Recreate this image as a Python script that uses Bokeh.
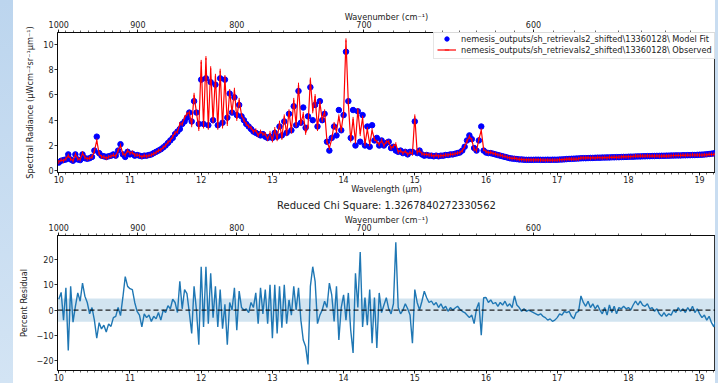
import math
from bokeh.plotting import figure
from bokeh.layouts import column, row
from bokeh.models import (Range1d, LinearAxis, FixedTicker, SingleIntervalTicker,
                          CustomJSTickFormatter, Legend, LegendItem, BoxAnnotation, Span,
                          ColumnDataSource, Div)
from bokeh.embed import file_html
from bokeh.resources import INLINE

# ---------------- data ----------------
samples_per_um = 30          # spectral points per micron, starting at 10.0 um
start_um = 10.0

model_10 = [0.65, 0.80, 0.85, 0.90, 1.30, 0.90, 0.80, 1.30, 0.90, 0.85,
            1.30, 1.00, 0.95, 1.00, 1.10, 1.60, 2.70, 1.40, 1.20, 1.15,
            1.10, 1.15, 1.20, 1.30, 1.20, 1.60, 2.10, 1.30, 1.10, 1.50]
model_11 = [1.30, 1.35, 1.20, 1.25, 1.20, 1.15, 1.20, 1.20, 1.25, 1.30,
            1.40, 1.50, 1.60, 1.70, 1.85, 2.00, 2.20, 2.40, 2.60, 2.90,
            3.10, 3.30, 3.70, 3.90, 4.20, 4.60, 3.90, 5.50, 4.60, 3.70]
model_12 = [7.20, 3.70, 7.30, 3.60, 7.00, 4.00, 6.80, 3.60, 7.30, 3.80,
            7.20, 4.20, 6.10, 4.60, 5.80, 4.40, 5.20, 4.30, 4.00, 3.70,
            3.50, 3.30, 3.10, 3.00, 2.90, 2.80, 2.90, 2.70, 2.60, 2.70]
model_13 = [2.60, 3.00, 2.70, 3.50, 2.80, 3.90, 3.00, 4.50, 3.20, 5.10,
            3.60, 6.30, 3.80, 5.00, 3.40, 4.30, 6.60, 4.00, 5.20, 3.50,
            5.50, 4.00, 4.50, 2.30, 1.60, 2.60, 3.50, 2.80, 4.80, 3.20]
model_14 = [4.40, 9.40, 5.50, 2.60, 4.80, 2.00, 4.70, 2.30, 4.40, 2.00,
            3.50, 1.90, 3.60, 2.40, 2.60, 2.00, 2.40, 2.00, 2.20, 2.30,
            1.80, 1.90, 1.60, 1.50, 1.60, 1.40, 1.50, 1.30, 1.50, 1.50]
model_15 = [3.90, 1.40, 1.60, 1.30, 1.20, 1.25, 1.20, 1.20, 1.15, 1.20,
            1.15, 1.20, 1.20, 1.25, 1.25, 1.30, 1.30, 1.35, 1.40, 1.45,
            1.60, 1.90, 2.40, 2.80, 2.50, 1.80, 1.60, 2.40, 3.50, 1.60]
model_16 = [1.45, 1.40, 1.40, 1.35, 1.30, 1.25, 1.20, 1.15, 1.10, 1.05,
            1.00, 0.97, 0.95, 0.93, 0.90, 0.90, 0.88, 0.87, 0.87, 0.87,
            0.87, 0.88, 0.88, 0.87, 0.87, 0.87, 0.88, 0.87, 0.88, 0.88]
model_17 = [0.88, 0.89, 0.90, 0.91, 0.93, 0.94, 0.95, 0.96, 0.97, 0.98,
            0.99, 1.00, 1.00, 1.01, 1.02, 1.02, 1.03, 1.04, 1.04, 1.05,
            1.05, 1.06, 1.06, 1.07, 1.07, 1.08, 1.08, 1.09, 1.10, 1.10]
model_18 = [1.11, 1.12, 1.12, 1.13, 1.14, 1.14, 1.15, 1.15, 1.16, 1.16,
            1.17, 1.17, 1.18, 1.18, 1.19, 1.19, 1.20, 1.20, 1.21, 1.21,
            1.22, 1.22, 1.22, 1.23, 1.23, 1.24, 1.24, 1.25, 1.25, 1.26]
model_19 = [1.27, 1.28, 1.29, 1.31, 1.33, 1.35, 1.38, 1.40, 1.42, 1.43]

obs_10 = [0.70, 0.85, 0.80, 0.95, 1.20, 0.95, 0.80, 1.30, 0.95, 0.90,
          1.40, 1.05, 0.95, 1.00, 1.10, 1.55, 2.40, 1.35, 1.10, 1.10,
          1.00, 1.10, 1.15, 1.25, 1.15, 1.60, 2.00, 1.35, 1.25, 1.60]
obs_11 = [1.40, 1.45, 1.25, 1.25, 1.20, 1.10, 1.20, 1.15, 1.20, 1.25,
          1.35, 1.45, 1.60, 1.65, 1.85, 2.00, 2.25, 2.40, 2.70, 3.00,
          3.10, 3.70, 3.70, 4.20, 4.50, 4.60, 3.60, 6.00, 4.60, 3.30]
obs_12 = [8.60, 3.50, 8.90, 3.40, 8.10, 3.90, 7.50, 3.40, 7.90, 3.50,
          7.40, 3.70, 6.30, 4.60, 6.40, 4.10, 5.60, 4.40, 4.00, 3.70,
          3.50, 3.40, 3.10, 3.20, 2.80, 3.10, 2.90, 2.90, 2.50, 3.00]
obs_13 = [2.40, 3.30, 2.50, 3.80, 2.60, 4.30, 2.90, 4.70, 3.10, 5.60,
          3.60, 6.80, 3.70, 4.50, 3.00, 3.50, 7.20, 4.70, 5.90, 3.30,
          5.40, 4.00, 4.70, 2.30, 1.80, 2.50, 3.70, 3.10, 4.30, 3.20]
obs_14 = [4.60, 10.30, 5.30, 2.40, 4.10, 2.30, 4.80, 2.90, 4.20, 2.10,
          3.30, 2.10, 3.20, 2.50, 2.30, 2.10, 2.40, 2.00, 2.30, 2.30,
          1.80, 1.95, 2.10, 1.50, 1.60, 1.40, 1.55, 1.30, 1.45, 1.35]
obs_15 = [4.30, 1.45, 1.60, 1.35, 1.30, 1.30, 1.25, 1.25, 1.15, 1.25,
          1.15, 1.20, 1.20, 1.25, 1.25, 1.30, 1.30, 1.35, 1.40, 1.45,
          1.60, 1.90, 2.35, 2.70, 2.45, 1.70, 1.60, 2.50, 3.20, 1.70]
obs_16 = [1.52, 1.44, 1.46, 1.38, 1.34, 1.27, 1.24, 1.17, 1.14, 1.07,
          1.03, 0.98, 1.00, 0.95, 0.91, 0.90, 0.88, 0.87, 0.87, 0.87,
          0.86, 0.87, 0.86, 0.86, 0.85, 0.84, 0.85, 0.84, 0.84, 0.85]
obs_17 = [0.85, 0.88, 0.88, 0.90, 0.92, 0.94, 0.93, 0.93, 0.93, 0.95,
          1.02, 1.03, 1.02, 1.05, 1.00, 1.05, 1.00, 1.06, 1.04, 1.03,
          1.06, 1.03, 1.08, 1.06, 1.09, 1.06, 1.09, 1.10, 1.12, 1.11]
obs_18 = [1.12, 1.12, 1.14, 1.17, 1.16, 1.18, 1.17, 1.17, 1.19, 1.17,
          1.18, 1.16, 1.19, 1.16, 1.16, 1.18, 1.17, 1.18, 1.19, 1.21,
          1.21, 1.23, 1.21, 1.24, 1.22, 1.25, 1.23, 1.27, 1.24, 1.26]
obs_19 = [1.25, 1.24, 1.26, 1.26, 1.30, 1.29, 1.30, 1.36, 1.46, 1.46]

resid_10 = [4.3, 7.0, -4.0, 8.8, -16.0, 9.4, -4.8, 1.5, 6.8, 3.5,
            10.7, 5.5, 3.0, -1.5, 1.0, -4.0, -11.2, -5.0, -7.5, -6.0,
            -8.7, -5.5, -6.5, -3.0, -2.5, 1.0, -2.2, 5.0, 13.3, 9.4]
resid_11 = [8.5, 8.1, 3.0, -0.5, -2.0, -6.7, -1.5, -3.0, -2.0, -4.5,
            -2.5, -3.5, -1.0, -4.0, 0.0, -1.0, 1.7, 0.5, 4.3, 3.0,
            -1.0, 11.4, 0.5, 8.1, 6.5, -1.0, -9.3, 9.4, 0.0, -13.8]
resid_12 = [17.2, -6.7, 17.2, -5.4, 14.6, -3.0, 9.4, -6.7, 8.1, -7.4,
            2.3, -13.8, 3.0, 0.0, 8.8, -8.0, 7.5, 1.0, 0.0, 0.5,
            -1.0, 3.0, 1.0, 6.8, -5.4, 8.8, -1.5, 8.1, -5.4, 10.0]
resid_13 = [-11.2, 10.0, -9.3, 9.4, -7.0, 10.0, -5.4, 4.0, -2.0, 9.4,
            0.0, 8.8, -4.0, -11.9, -14.5, -21.6, 9.4, 17.2, 11.4, -5.4,
            -2.0, 0.0, 3.5, 1.0, 10.7, 6.0, -4.5, 9.4, -11.9, 1.0]
resid_14 = [6.0, -4.0, 6.8, -8.0, -17.0, 14.6, 1.0, 23.0, -6.7, 5.0,
            -6.0, 8.1, -13.2, 5.0, -15.1, 6.8, -1.0, 2.0, 4.9, 0.5,
            -1.5, 2.5, 26.9, 1.0, -1.5, 0.0, 2.5, 0.5, -2.0, -13.2]
resid_15 = [8.1, 3.0, 0.0, 3.5, 7.5, 4.9, 3.0, 3.6, 2.0, 3.0,
            1.0, 2.5, 0.5, 1.5, -0.5, 1.0, 0.0, 0.8, 1.5, 0.3,
            -0.5, -1.0, -2.0, -3.0, -2.0, -5.4, 0.5, 3.0, -10.0, 4.9]
resid_16 = [5.0, 3.0, 4.0, 2.5, 3.0, 1.5, 3.0, 2.0, 3.5, 1.5,
            2.5, 1.0, 5.6, 2.0, 1.0, -0.5, 0.5, -0.5, 0.0, -0.5,
            -1.0, -1.5, -2.0, -1.5, -2.5, -3.0, -4.0, -3.5, -4.5, -4.0]
resid_17 = [-3.0, -1.5, -2.0, -0.5, -1.0, -0.5, -2.5, -3.5, -1.0, -0.5,
            5.6, 3.0, 1.5, 3.5, 1.0, 2.5, 0.5, 2.0, 0.0, -1.5,
            1.0, -2.0, 2.0, -1.0, 1.5, -1.5, 1.0, 0.5, 1.5, 0.5]
resid_18 = [1.0, 0.0, 2.0, 3.6, 2.0, 3.5, 2.0, 1.5, 2.5, 0.5,
            1.0, -0.5, 0.5, -1.5, -2.5, -1.0, -2.5, -1.5, -2.0, 0.0,
            -1.0, 1.0, -0.5, 0.5, -1.0, 1.0, -0.5, 1.5, -1.0, 0.5]
resid_19 = [-1.5, -3.0, -2.0, -4.0, -2.5, -5.0, -6.7, -3.0, 3.0, 2.0]

wavenumber_major = [1000, 900, 800, 700, 600]
wavenumber_minor = list(range(1000, 500, -10))
band_half_width = 4.6          # shaded +/- band in the residual panel (percent)
chi_square = "1.3267840272330562"
label_fit = "nemesis_outputs/sh_retrievals2_shifted\\13360128\\ Model Fit"
label_obs = "nemesis_outputs/sh_retrievals2_shifted\\13360128\\ Observed"

model = (model_10 + model_11 + model_12 + model_13 + model_14 + model_15 +
         model_16 + model_17 + model_18 + model_19)
observed = (obs_10 + obs_11 + obs_12 + obs_13 + obs_14 + obs_15 +
            obs_16 + obs_17 + obs_18 + obs_19)
residual = (resid_10 + resid_11 + resid_12 + resid_13 + resid_14 + resid_15 +
            resid_16 + resid_17 + resid_18 + resid_19)
assert len(model) == len(observed) == len(residual) == 280
wavelength = [round(start_um + i / samples_per_um, 4) for i in range(len(model))]

src = ColumnDataSource(dict(wl=wavelength, model=model, obs=observed, res=residual))

# ---------------- styling helpers ----------------
FONT = "DejaVu Sans"
TXT = "#222222"
STRIP_L = 13
STRIP_R = 3
W = 718 - STRIP_L - STRIP_R
X_RANGE = (9.982, 19.223)


def style_axis(ax, label_standoff=0, tick_standoff=1):
    ax.axis_line_color = "black"
    ax.axis_line_width = 0.8
    ax.major_tick_line_color = "black"
    ax.minor_tick_line_color = "black"
    ax.major_tick_line_width = 0.8
    ax.minor_tick_line_width = 0.6
    ax.major_tick_in = 0
    ax.major_tick_out = 3
    ax.minor_tick_in = 0
    ax.minor_tick_out = 2
    ax.major_label_text_font = FONT
    ax.major_label_text_font_size = "8px"
    ax.major_label_text_color = TXT
    ax.major_label_standoff = tick_standoff
    ax.axis_label_text_font = FONT
    ax.axis_label_text_font_size = "8.2px"
    ax.axis_label_text_font_style = "normal"
    ax.axis_label_text_color = TXT
    ax.axis_label_standoff = label_standoff


def wavenumber_axis():
    ax = LinearAxis(
        ticker=FixedTicker(ticks=[10000.0 / w for w in wavenumber_major],
                           minor_ticks=[10000.0 / w for w in wavenumber_minor]),
        formatter=CustomJSTickFormatter(code="return Math.round(10000 / tick).toString();"),
        axis_label="Wavenumber (cm⁻¹)")
    style_axis(ax, label_standoff=-4, tick_standoff=2)
    return ax


def base_figure(height, y_range, min_top, title=None):
    p = figure(width=W, height=height, x_range=Range1d(*X_RANGE), y_range=Range1d(*y_range),
               output_backend="svg", toolbar_location=None, title=title,
               min_border_left=57 - STRIP_L, min_border_right=0,
               min_border_top=min_top, min_border_bottom=0)
    p.xgrid.visible = False
    p.ygrid.visible = False
    p.outline_line_color = "black"
    p.outline_line_width = 0.8
    p.background_fill_color = "white"
    p.border_fill_color = "white"
    return p


# ---------------- top panel: spectrum ----------------
top = base_figure(196, (-0.13, 10.92), 32)
top.xaxis.ticker = SingleIntervalTicker(interval=1, num_minor_ticks=10)
top.xaxis.axis_label = "Wavelength (µm)"
top.yaxis.ticker = SingleIntervalTicker(interval=2, num_minor_ticks=0)
top.yaxis.axis_label = "Spectral Radiance (µWcm⁻²sr⁻¹µm⁻¹)"
style_axis(top.xaxis[0], label_standoff=-2, tick_standoff=0)
style_axis(top.yaxis[0], label_standoff=5)
top.add_layout(wavenumber_axis(), "above")

r_fit = top.scatter("wl", "model", source=src, size=5.5, marker="circle",
                    fill_color="#0000ff", line_color="#0000ff")
r_obs = top.line("wl", "obs", source=src, line_color="#ff0000", line_width=1.2)
r_err = top.scatter("wl", "obs", source=src, marker="dash", angle=math.pi / 2, size=4,
                    line_color="#ff0000", line_width=1)

legend = Legend(items=[LegendItem(label=label_fit, renderers=[r_fit]),
                       LegendItem(label=label_obs, renderers=[r_obs, r_err])],
                location=(376, 113), margin=0, padding=3, spacing=0,
                glyph_width=19, glyph_height=11, label_height=10, label_standoff=5,
                label_text_font=FONT, label_text_font_size="8.2px", label_text_color=TXT,
                border_line_color="#cccccc", border_line_width=1,
                background_fill_color="white", background_fill_alpha=0.85)
top.add_layout(legend)

# ---------------- bottom panel: residual ----------------
bot = base_figure(187, (-24.0, 29.6), 38, title=f"Reduced Chi Square: {chi_square}")
bot.title.align = "center"
bot.title.text_font = FONT
bot.title.text_font_size = "10px"
bot.title.text_font_style = "normal"
bot.title.text_color = TXT
bot.title.standoff = 2
bot.xaxis.ticker = SingleIntervalTicker(interval=1, num_minor_ticks=10)
bot.yaxis.ticker = SingleIntervalTicker(interval=10, num_minor_ticks=0)
bot.yaxis.axis_label = "Percent Residual"
style_axis(bot.xaxis[0], tick_standoff=0)
style_axis(bot.yaxis[0], label_standoff=5)
bot.add_layout(wavenumber_axis(), "above")

bot.add_layout(BoxAnnotation(bottom=-band_half_width, top=band_half_width,
                             fill_color="#1f77b4", fill_alpha=0.2, line_alpha=0,
                             level="underlay"))
bot.line("wl", "res", source=src, line_color="#1f77b4", line_width=1.4)
bot.add_layout(Span(location=0, dimension="width", line_color="black", line_alpha=0.85,
                    line_width=1.3, line_dash="5 3"))

left_strip = Div(text="", width=STRIP_L, height=383, margin=0,
                 styles={"background": "linear-gradient(#bcd5ee, #d3e4f4)"})
right_strip = Div(text="", width=STRIP_R, height=383, margin=0,
                  styles={"background": "#c9ddf1"})

page = row(left_strip, column(top, bot, spacing=0), right_strip, spacing=0)
open("out.html", "w").write(file_html(page, INLINE))
